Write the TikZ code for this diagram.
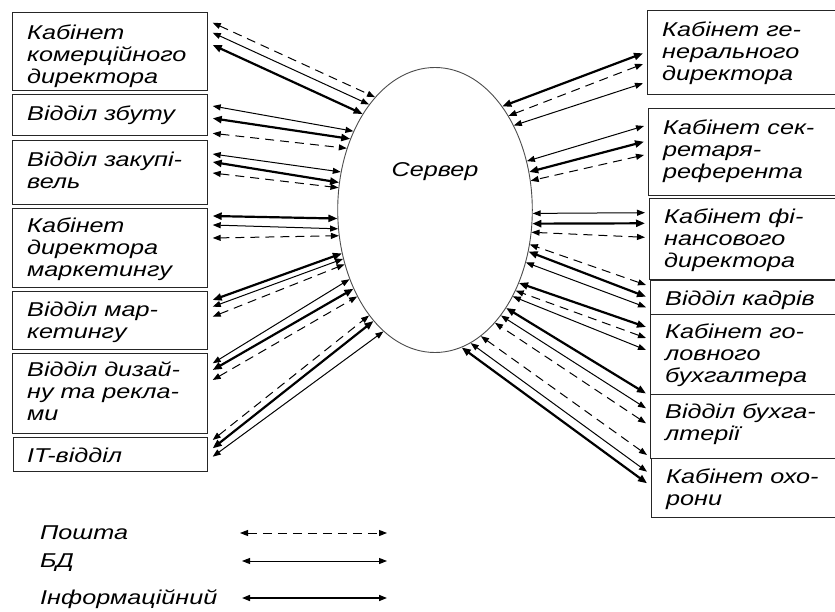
\documentclass[tikz,border=0pt]{standalone}
\usepackage{fontspec}
\setmainfont{Liberation Sans}[FakeStretch=1.26]
\usetikzlibrary{arrows.meta,calc,shapes.geometric}

\newcommand\bxstrut{\rule{0pt}{19pt}}
% connector from a left-hand box (offset below its top edge) to the server
\newcommand\linkL[4]{\draw[#1] ($(#2.north east)+(4.5,0)-(0,#3)$) -- (srv.#4);}
% connector from a right-hand box to the server
\newcommand\linkR[4]{\draw[#1] ($(#2.north west)+(-4,0)-(0,#3)$) -- (srv.#4);}

\tikzset{
  box/.style={draw=black!85, line width=1.2pt, anchor=north west, inner sep=0pt},
  txt/.style={inner sep=0pt, font=\fontsize{20}{22}\selectfont\itshape},
  lbl/.style={txt, anchor=north west, align=left},
  tip/.style={{Triangle[length=8pt,width=6pt]}-{Triangle[length=8pt,width=6pt]}},
  mailln/.style={tip, line width=1pt, dash pattern=on 9pt off 6pt},
  dbln/.style={tip, line width=1pt},
  infoln/.style={{Triangle[length=9pt,width=7pt]}-{Triangle[length=9pt,width=7pt]}, line width=2.2pt},
}

\begin{document}
\begin{tikzpicture}[x=1pt,y=1pt]
\useasboundingbox (0,0) rectangle (835,-612);
\clip (0,0) rectangle (835,-612);

% server
\node[ellipse, draw=black!70, line width=0.9pt, inner sep=0pt,
      minimum width=194.6pt, minimum height=285pt] (srv) at (435,-210) {};
\node[txt, anchor=base] (srvt) at (435,-177) {Сервер};

% left column of rooms
\node[box, minimum width=195pt, minimum height=78pt] (L1) at (12,-12) {};
\node[box, minimum width=195pt, minimum height=41pt] (L2) at (12,-94) {};
\node[box, minimum width=195pt, minimum height=64pt] (L3) at (12,-140) {};
\node[box, minimum width=195pt, minimum height=79pt] (L4) at (12,-208) {};
\node[box, minimum width=195pt, minimum height=58pt] (L5) at (12,-291) {};
\node[box, minimum width=195pt, minimum height=80pt] (L6) at (12,-353) {};
\node[box, minimum width=194pt, minimum height=34pt] (L7) at (13,-437) {};

\node[lbl] (L1t) at ($(L1.north west)+(15,-8)$) {\bxstrut Кабінет\\комерційного\\директора};
\node[lbl] (L2t) at ($(L2.north west)+(15,-7)$) {\bxstrut Відділ збуту};
\node[lbl] (L3t) at ($(L3.north west)+(15,-7)$) {\bxstrut Відділ закупі-\\вель};
\node[lbl] (L4t) at ($(L4.north west)+(15,-5)$) {\bxstrut Кабінет\\директора\\маркетингу};
\node[lbl] (L5t) at ($(L5.north west)+(15,-6)$) {\bxstrut Відділ мар-\\кетингу};
\node[lbl] (L6t) at ($(L6.north west)+(15,-4)$) {\bxstrut Відділ дизай-\\ну та рекла-\\ми};
\node[lbl] (L7t) at ($(L7.north west)+(14,-6)$) {\bxstrut IT-відділ};

% right column of rooms
\node[box, minimum width=220pt, minimum height=84pt] (R1) at (647,-10) {};
\node[box, minimum width=220pt, minimum height=87pt] (R2) at (648,-108) {};
\node[box, minimum width=220pt, minimum height=81pt] (R3) at (649,-198) {};
\node[box, minimum width=220pt, minimum height=34pt] (R4) at (650,-279.5) {};
\node[box, minimum width=220pt, minimum height=80pt] (R5) at (650,-313.5) {};
\node[box, minimum width=220pt, minimum height=64.5pt] (R6) at (650,-393.5) {};
\node[box, minimum width=220pt, minimum height=59pt] (R7) at (651,-458) {};

\node[lbl] (R1t) at ($(R1.north west)+(15,-7)$) {\bxstrut Кабінет ге-\\нерального\\директора};
\node[lbl] (R2t) at ($(R2.north west)+(15,-7)$) {\bxstrut Кабінет сек-\\ретаря-\\референта};
\node[lbl] (R3t) at ($(R3.north west)+(15,-6)$) {\bxstrut Кабінет фі-\\нансового\\директора};
\node[lbl] (R4t) at ($(R4.north west)+(15,-7)$) {\bxstrut Відділ кадрів};
\node[lbl] (R5t) at ($(R5.north west)+(15,-6)$) {\bxstrut Кабінет го-\\ловного\\бухгалтера};
\node[lbl] (R6t) at ($(R6.north west)+(15,-6)$) {\bxstrut Відділ бухга-\\лтерії};
\node[lbl] (R7t) at ($(R7.north west)+(15,-6)$) {\bxstrut Кабінет охо-\\рони};

% links, left side
\linkL{mailln}{L1}{10.7}{118.2} \linkL{dbln}{L1}{20.7}{122.1} \linkL{infoln}{L1}{33}{127.5}
\linkL{dbln}{L2}{12}{136.2}     \linkL{infoln}{L2}{24.3}{140.5} \linkL{mailln}{L2}{39.3}{145.4}
\linkL{dbln}{L3}{14}{158.8}     \linkL{infoln}{L3}{22}{164.4}   \linkL{mailln}{L3}{33}{167.8}
\linkL{infoln}{L4}{8}{185.2}    \linkL{dbln}{L4}{17}{191.3}     \linkL{mailln}{L4}{30}{195.9}
\linkL{infoln}{L5}{9}{205}      \linkL{dbln}{L5}{15.7}{208.6}   \linkL{mailln}{L5}{25.7}{211.5}
\linkL{dbln}{L6}{10.3}{219.5}   \linkL{infoln}{L6}{17}{224.4}   \linkL{mailln}{L6}{27}{228.8}
\linkL{mailln}{L7}{3}{238.2}    \linkL{infoln}{L7}{11.3}{241.8} \linkL{dbln}{L7}{19.7}{247.3}

% links, right side
\linkR{infoln}{R1}{43.3}{57}    \linkR{mailln}{R1}{54}{52}      \linkR{dbln}{R1}{73.3}{47.2}
\linkR{dbln}{R2}{18}{28.7}      \linkR{infoln}{R2}{33.7}{22.1}  \linkR{mailln}{R2}{47}{17}
\linkR{dbln}{R3}{14.7}{358.5}   \linkR{infoln}{R3}{25.3}{352.8} \linkR{mailln}{R3}{39.3}{347.8}
\linkR{mailln}{R4}{5.5}{340.6}  \linkR{infoln}{R4}{17.2}{336.2} \linkR{dbln}{R4}{27.8}{330.7}
\linkR{infoln}{R5}{13.5}{319.3} \linkR{mailln}{R5}{24.5}{315}   \linkR{dbln}{R5}{36.5}{312.3}
\linkR{infoln}{R6}{0}{306.6}    \linkR{dbln}{R6}{14.8}{302.5}   \linkR{mailln}{R6}{29.8}{298.8}
\linkR{mailln}{R7}{-3}{290.2}   \linkR{dbln}{R7}{13.7}{285.6}   \linkR{infoln}{R7}{25.3}{281.4}

% legend
\node[txt, anchor=base west] (lg1) at (40,-539) {Пошта};
\node[txt, anchor=base west] (lg2) at (40,-567) {БД};
\node[txt, anchor=base west] (lg3) at (40,-604) {Інформаційний};
\coordinate (m1a) at (240,-533); \coordinate (m1b) at (387,-533);
\coordinate (m2a) at (242,-561); \coordinate (m2b) at (387,-561);
\coordinate (m3a) at (242,-598); \coordinate (m3b) at (387,-598);
\draw[mailln] (m1a) -- (m1b);
\draw[dbln] (m2a) -- (m2b);
\draw[tip, line width=1.5pt] (m3a) -- (m3b);
\end{tikzpicture}
\end{document}
